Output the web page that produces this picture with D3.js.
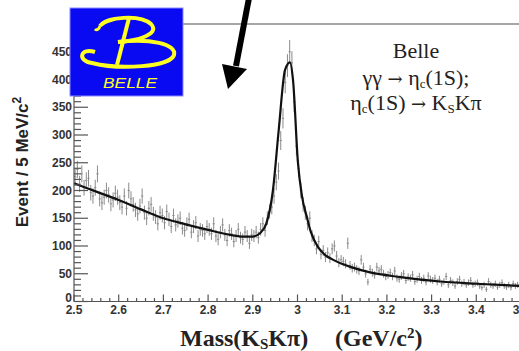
<!DOCTYPE html>
<html><head><meta charset="utf-8">
<script src="https://cdn.jsdelivr.net/npm/d3@7"></script>
<style>body{margin:0;background:#fff}svg{display:block}</style>
</head><body>
<svg id="c" width="519" height="351"></svg>
<script>
const binStart = 2.5, binWidth = 0.005;
const counts = [
 225,238,212,230,205,218,222,196,190,205,230,185,178,188,200,192,176,183,195,188,
 178,170,190,168,200,185,175,165,158,172,190,160,150,168,175,158,152,140,160,155,
 142,162,148,135,155,138,145,150,132,128,140,148,125,135,142,118,130,128,122,135,
 130,122,140,118,112,125,138,120,110,128,122,108,118,130,115,112,125,118,105,120,
 118,125,115,130,140,128,150,162,170,190,215,235,290,330,395,425,450,430,360,280,
 240,200,175,160,140,150,118,110,95,108,85,92,80,88,78,95,100,82,70,75,
 72,68,105,65,60,62,58,55,75,62,50,35,58,52,48,62,55,58,50,45,
 48,52,45,55,42,40,46,50,38,44,42,48,36,40,45,38,42,35,46,40,
 38,42,35,40,32,36,45,30,38,34,28,36,40,32,35,30,34,38,30,32,
 34,28,25,30,22,36,30,28,32,26,30,34,28,26,30,25,32,28,30,26
];
const fitMass  = [2.50,2.55,2.60,2.65,2.70,2.75,2.80,2.85,2.88,2.90,2.916,2.93,2.945,2.958,2.972,2.983,2.990,3.001,3.010,3.021,3.030,3.046,3.06,3.08,3.12,3.16,3.23,3.32,3.40,3.50];
const fitValue = [213,198,183,166,150,139,129,120,117,117,123,140,200,309,417,431,399,250,190,152,125,98,85,75,62,53,44,36,32,28];
const xTicks = [2.5,2.6,2.7,2.8,2.9,3.0,3.1,3.2,3.3,3.4,3.5];
const xTickLabels = ["2.5","2.6","2.7","2.8","2.9","3","3.1","3.2","3.3","3.4","3.5"];
const yTicks = [0,50,100,150,200,250,300,350,400,450];

const svg = d3.select("#c");
const x = d3.scaleLinear().domain([2.5,3.5]).range([74,521]);
const y = d3.scaleLinear().domain([0,500]).range([301.5,24]);

// frame top
svg.append("line").attr("x1",x(2.5)).attr("x2",x(3.5)).attr("y1",y(500)).attr("y2",y(500))
  .attr("stroke","#888").attr("stroke-width",1.5);

// data points
const g = svg.append("g").attr("stroke","#8a8a8a").attr("stroke-width",1);
counts.forEach((v,i)=>{
  const m = binStart + binWidth*(i+0.5);
  const e = Math.sqrt(v);
  g.append("line").attr("x1",x(m)).attr("x2",x(m)).attr("y1",y(v-e)).attr("y2",y(v+e));
  g.append("line").attr("x1",x(m-binWidth/2)).attr("x2",x(m+binWidth/2)).attr("y1",y(v)).attr("y2",y(v));
});

// fit curve
const line = d3.line().x((d,i)=>x(fitMass[i])).y(d=>y(d)).curve(d3.curveMonotoneX);
svg.append("path").attr("d",line(fitValue)).attr("fill","none").attr("stroke","#111").attr("stroke-width",2.2);

// axes
const ax = svg.append("g").attr("stroke","#555").attr("stroke-width",1.2);
ax.append("line").attr("x1",x(2.5)).attr("x2",x(3.5)).attr("y1",y(0)).attr("y2",y(0));
ax.append("line").attr("x1",x(2.5)).attr("x2",x(2.5)).attr("y1",y(0)).attr("y2",y(500));
d3.range(0,51).forEach(k=>{
  const m = 2.5 + k*0.02;
  const major = k%5===0;
  ax.append("line").attr("x1",x(m)).attr("x2",x(m)).attr("y1",y(0)).attr("y2",y(0)-(major?7:3.5));
});
d3.range(0,50).forEach(k=>{
  const v = k*10;
  const major = k%5===0;
  ax.append("line").attr("x1",x(2.5)).attr("x2",x(2.5)+(major?14:7)).attr("y1",y(v)).attr("y2",y(v));
});
svg.append("g").selectAll("text").data(xTicks).join("text")
  .attr("x",d=>x(d)).attr("y",y(0)+12).attr("text-anchor","middle")
  .attr("font-family","Liberation Sans, Arial, sans-serif").attr("font-weight","bold").attr("font-size",12).attr("fill","#333")
  .text((d,i)=>xTickLabels[i]);
svg.append("g").selectAll("text").data(yTicks).join("text")
  .attr("x",x(2.5)-2).attr("y",d=>y(d)+(d===0?0:4)).attr("text-anchor","end")
  .attr("font-family","Liberation Sans, Arial, sans-serif").attr("font-weight","bold").attr("font-size",12).attr("fill","#333")
  .text(d=>d);

// axis labels
svg.append("text").attr("transform","translate(28,162) rotate(-90)").attr("text-anchor","middle")
  .attr("font-family","Liberation Sans, Arial, sans-serif").attr("font-weight","bold").attr("font-size",17).attr("fill","#222")
  .html('Event / 5 MeV/c<tspan dy="-7" font-size="12">2</tspan>');
const xl = svg.append("g").attr("font-family","Liberation Serif, Times New Roman, serif").attr("font-weight","bold").attr("font-size",24).attr("fill","#222");
xl.append("text").attr("x",180).attr("y",346)
  .html('Mass(K<tspan font-size="15" dy="3">S</tspan><tspan dy="-3">Kπ)</tspan>');
xl.append("text").attr("x",335).attr("y",346)
  .html('(GeV/c<tspan font-size="15" dy="-8">2</tspan><tspan dy="8">)</tspan>');

// annotation
const ann = svg.append("g").attr("font-family","Liberation Serif, Times New Roman, serif").attr("font-size",22).attr("fill","#222").attr("text-anchor","middle");
ann.append("text").attr("x",416).attr("y",58).text("Belle");
ann.append("text").attr("x",416).attr("y",85).html('γγ <tspan font-family="DejaVu Serif" font-size="18">→</tspan> η<tspan font-size="13" dy="3">c</tspan><tspan dy="-3">(1S);</tspan>');
ann.append("text").attr("x",416).attr("y",110).html('η<tspan font-size="13" dy="3">c</tspan><tspan dy="-3">(1S) </tspan><tspan font-family="DejaVu Serif" font-size="18">→</tspan> K<tspan font-size="13" dy="3">S</tspan><tspan dy="-3">Kπ</tspan>');

// Belle logo
const logo = svg.append("g");
logo.append("rect").attr("x",70).attr("y",8).attr("width",113).attr("height",88).attr("fill","#0a0af2").attr("stroke","#8888ff").attr("stroke-width",1);
const Y = "#ffff22";
logo.append("path").attr("d","M95,52 C80,47 77,61 92,63 C120,70 170,67 174,55 C177,44 150,38 118,42").attr("fill","none").attr("stroke",Y).attr("stroke-width",4);
logo.append("path").attr("d","M100,26 C106,17 140,14 151,24 C161,35 135,41 118,42").attr("fill","none").attr("stroke",Y).attr("stroke-width",4);
logo.append("path").attr("d","M100,26 C99,29 97,31 95,29").attr("fill","none").attr("stroke",Y).attr("stroke-width",3);
logo.append("path").attr("d","M129,18 L117,65").attr("fill","none").attr("stroke",Y).attr("stroke-width",4);
logo.append("text").attr("x",103).attr("y",88).attr("font-family","Liberation Sans, Arial, sans-serif")
  .attr("font-style","italic").attr("font-size",15).attr("fill",Y).attr("textLength",54).attr("lengthAdjust","spacingAndGlyphs").text("BELLE");

// arrow
svg.append("line").attr("x1",249).attr("y1",-2).attr("x2",236).attr("y2",66).attr("stroke","#000").attr("stroke-width",6);
svg.append("path").attr("d","M222,64 L247,69 L228,89 Z").attr("fill","#000");
</script>
</body></html>
